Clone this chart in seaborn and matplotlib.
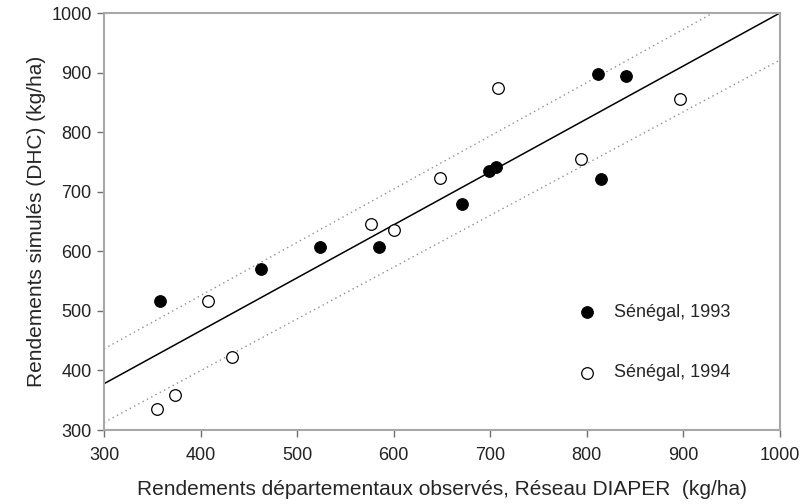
import matplotlib
matplotlib.use("Agg")
import matplotlib.pyplot as plt
import numpy as np
import pandas as pd
import seaborn as sns

# Sénégal 1993 (filled) and 1994 (open): observed vs simulated yields (kg/ha)
obs_1993 = [358, 463, 524, 585, 671, 699, 706, 812, 841, 815]
sim_1993 = [516, 570, 607, 607, 680, 735, 742, 898, 894, 721]
obs_1994 = [355, 373, 408, 433, 577, 600, 648, 708, 794, 897]
sim_1994 = [336, 359, 516, 422, 646, 636, 723, 874, 755, 855]

# regression line and its band: (intercept, slope)
fit_line = (111, 0.889)
upper_band = (168, 0.894)
lower_band = (52, 0.869)

x_ticks = [300, 400, 500, 600, 700, 800, 900, 1000]
y_ticks = [300, 400, 500, 600, 700, 800, 900, 1000]

df = pd.concat([
    pd.DataFrame({"obs": obs_1993, "sim": sim_1993, "serie": "Sénégal, 1993"}),
    pd.DataFrame({"obs": obs_1994, "sim": sim_1994, "serie": "Sénégal, 1994"}),
])

sns.set_style("white")
plt.rcParams["font.family"] = ["Liberation Sans", "DejaVu Sans"]
plt.rcParams["font.size"] = 12

fig = plt.figure(figsize=(8.04, 5.04), dpi=100)
ax = fig.add_axes([0.1294, 0.1468, 0.8406, 0.8274])

xs = np.array([300, 1000])
a, b = fit_line
ax.plot(xs, a + b * xs, color="black", lw=1.1, zorder=2)
for a, b in (upper_band, lower_band):
    ax.plot(xs, a + b * xs, color="#909090", lw=1.0, ls=(0, (1, 2.5)), zorder=2)

sns.scatterplot(data=df[df.serie == "Sénégal, 1993"], x="obs", y="sim", ax=ax,
                color="black", edgecolor="black", s=70, linewidth=0.8,
                label="Sénégal, 1993", zorder=3)
sns.scatterplot(data=df[df.serie == "Sénégal, 1994"], x="obs", y="sim", ax=ax,
                facecolor="white", edgecolor="black", s=70, linewidth=0.9,
                label="Sénégal, 1994", zorder=3)

ax.set_xlim(300, 1000)
ax.set_ylim(300, 1000)
ax.set_xticks(x_ticks)
ax.set_yticks(y_ticks)
ax.tick_params(axis="both", which="major", direction="out", length=5, width=1,
               color="#707070", labelsize=13, labelcolor="#222222", pad=4,
               bottom=True, left=True)
ax.tick_params(axis="x", pad=7)
for sp in ax.spines.values():
    sp.set_color("#a8a8a8")
    sp.set_linewidth(1.5)

ax.set_xlabel("Rendements départementaux observés, Réseau DIAPER  (kg/ha)",
              fontsize=15, labelpad=12)
ax.set_ylabel("Rendements simulés (DHC) (kg/ha)", fontsize=15, labelpad=4)

ax.legend(loc="upper left", bbox_to_anchor=(0.688, 0.302), frameon=False,
          fontsize=13, labelspacing=2.4, handletextpad=0.5, borderpad=0,
          borderaxespad=0)

fig.savefig("out.png", dpi=100)
